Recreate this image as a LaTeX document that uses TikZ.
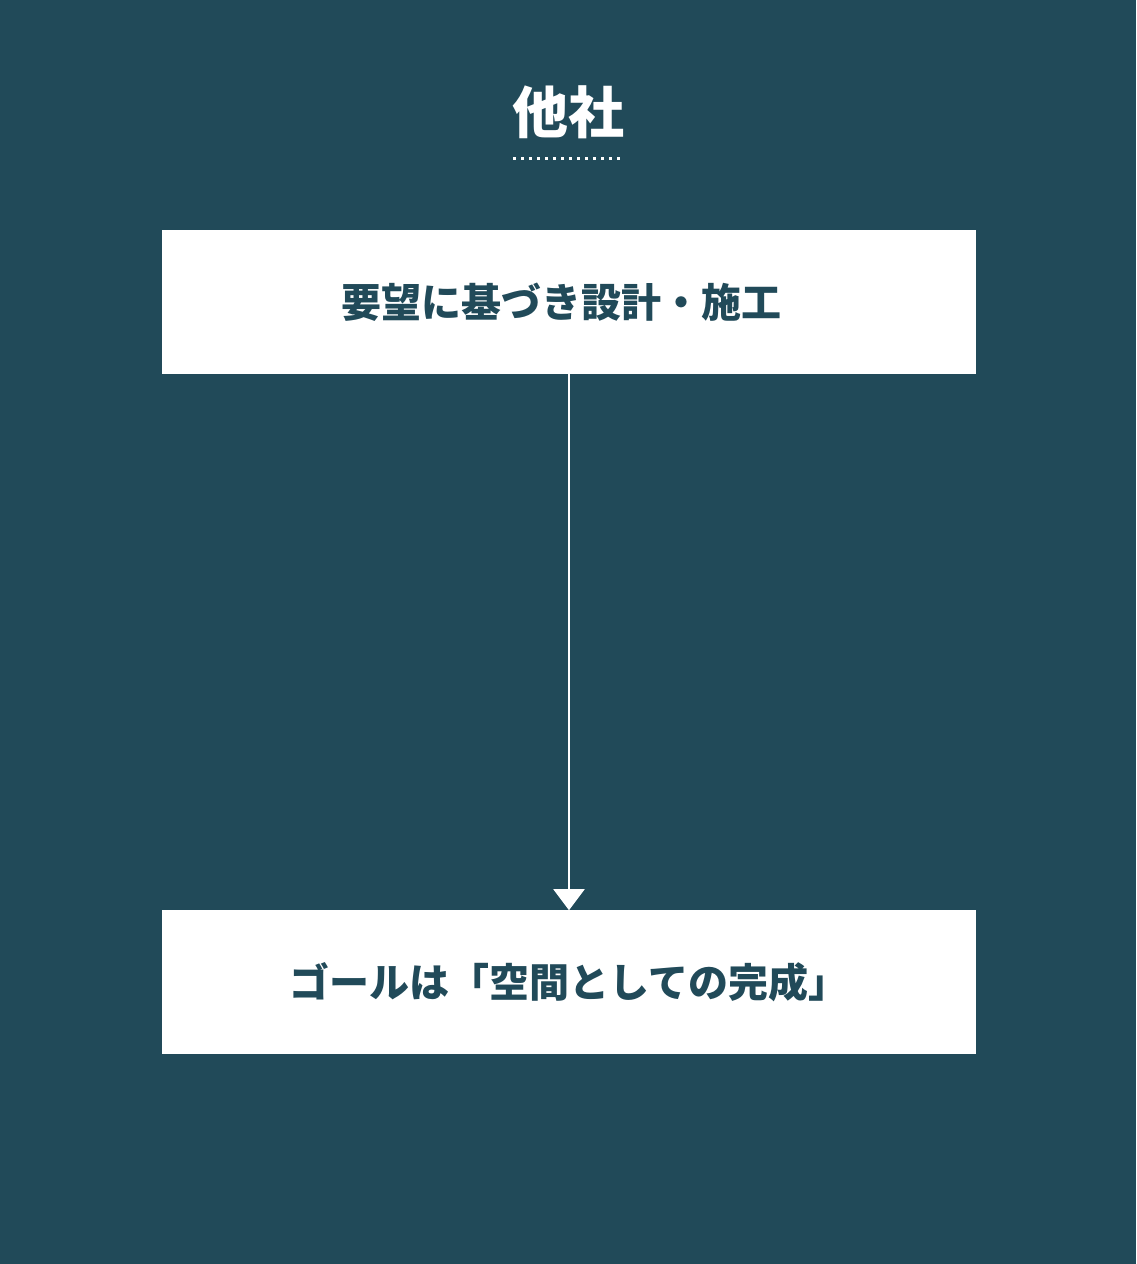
\documentclass[tikz,border=0pt]{standalone}
\usepackage{fontspec}
\setmainfont{Noto Sans CJK JP}
\usetikzlibrary{positioning, arrows.meta}
\definecolor{bgteal}{HTML}{214A59}

\begin{document}
\begin{tikzpicture}[
    x=1pt, y=-1pt,
    box/.style={fill=white, minimum width=814pt, minimum height=144pt, inner sep=0pt,
                text=bgteal, font=\fontsize{40}{48}\selectfont\bfseries},
    arrow/.style={-{Triangle[length=21pt, width=31pt]}, line width=2pt, white}
]

    % Background
    \fill[bgteal] (0, 0) rectangle (1136, 1264);

    % Title
    \node[text=white, font=\fontsize{56}{64}\selectfont\bfseries] (title) at (568, 112) {他社};
    \draw[white, line width=3pt, dash pattern=on 3pt off 5pt] (513, 158) -- (622, 158);

    % Boxes
    \node[box] (design) at (569, 302) {要望に基づき設計・施工\hspace*{16pt}};
    \node[box, below=536pt of design] (goal) {ゴールは「空間としての完成」};

    % Arrow
    \draw[arrow] (design.south) -- (goal.north);

\end{tikzpicture}
\end{document}
